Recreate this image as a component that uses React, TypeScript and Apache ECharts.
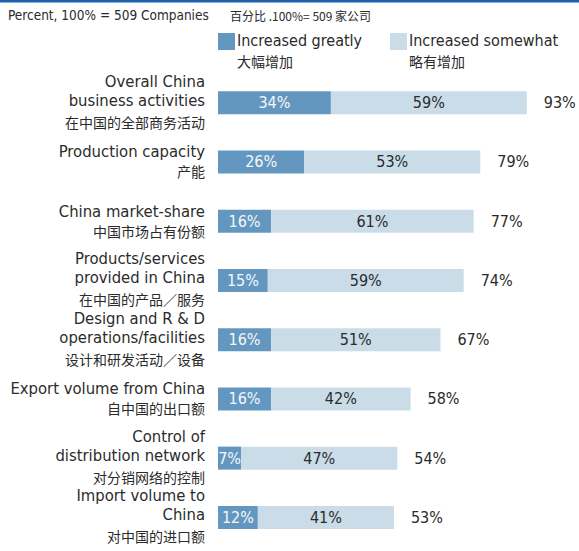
import React, { useEffect, useRef } from "react";
import * as echarts from "echarts";

const englishLabels: string[][] = [
  ["Overall China", "business activities"],
  ["Production capacity"],
  ["China market-share"],
  ["Products/services", "provided in China"],
  ["Design and R & D", "operations/facilities"],
  ["Export volume from China"],
  ["Control of", "distribution network"],
  ["Import volume to", "China"],
];
const chineseLabels: string[] = [
  "在中国的全部商务活动",
  "产能",
  "中国市场占有份额",
  "在中国的产品／服务",
  "设计和研发活动／设备",
  "自中国的出口额",
  "对分销网络的控制",
  "对中国的进口额",
];
const greatly: number[] = [34, 26, 16, 15, 16, 16, 7, 12];
const somewhat: number[] = [59, 53, 61, 59, 51, 42, 47, 41];
const seriesNames: string[] = ["Increased greatly", "Increased somewhat"];
const seriesNamesZh: string[] = ["大幅增加", "略有增加"];
const headerText = "Percent, 100% = 509 Companies";
const headerTextZh = "百分比 .100%= 509 家公司";

const totals = greatly.map((g, i) => g + somewhat[i]);
const categories = englishLabels.map((l) => l.join(" "));

const FONT = "'DejaVu Sans Condensed', 'Liberation Sans Narrow', 'Noto Sans', sans-serif";
const FONT_ZH = "'Noto Sans CJK SC', sans-serif";
const DARK = "#6497bf";
const LIGHT = "#c9dce8";
const TEXT = "#2b2b2b";

export default function App() {
  const ref = useRef<HTMLDivElement>(null);
  useEffect(() => {
    if (!ref.current) return;
    const chart = echarts.init(ref.current, undefined, { renderer: "svg" });
    const option: any = {
      animation: false,
      backgroundColor: "#ffffff",
      grid: { left: 218, top: 73, width: 332, height: 474, containLabel: false },
      xAxis: {
        type: "value",
        min: 0,
        max: 100,
        show: false,
      },
      yAxis: {
        type: "category",
        inverse: true,
        data: categories,
        axisLine: { show: false },
        axisTick: { show: false },
        splitLine: { show: false },
        axisLabel: {
          interval: 0,
          hideOverlap: false,
          margin: 13,
          align: "right",
          formatter: (_v: string, idx: number) => {
            const en = englishLabels[idx];
            const parts: string[] = [];
            en.forEach((l) => parts.push(`{en|${l}}`));
            parts.push(`{${en.length > 1 ? "zhGap" : "zh"}|${chineseLabels[idx]}}`);
            return parts.join("\n");
          },
          rich: {
            en: { fontFamily: FONT, fontSize: 16.5, lineHeight: 19, color: TEXT, align: "right" },
            zh: { fontFamily: FONT_ZH, fontSize: 14, lineHeight: 20, color: TEXT, align: "right" },
            zhGap: { fontFamily: FONT_ZH, fontSize: 14, lineHeight: 24, color: TEXT, align: "right" },
          },
        },
      },
      series: [
        {
          name: seriesNames[0],
          type: "bar",
          stack: "total",
          barWidth: 23,
          itemStyle: { color: DARK },
          label: {
            show: true,
            position: "inside",
            formatter: "{c}%",
            fontFamily: FONT,
            fontSize: 16,
            color: "#f4f7fa",
          },
          data: greatly,
        },
        {
          name: seriesNames[1],
          type: "bar",
          stack: "total",
          barWidth: 23,
          itemStyle: { color: LIGHT },
          label: {
            show: true,
            position: "inside",
            formatter: "{c}%",
            fontFamily: FONT,
            fontSize: 16,
            color: TEXT,
          },
          data: somewhat,
        },
        {
          name: "total",
          type: "scatter",
          symbolSize: 0,
          itemStyle: { opacity: 1 },
          label: {
            show: true,
            position: "right",
            distance: 17,
            formatter: (p: any) => `${p.value[0]}%`,
            fontFamily: FONT,
            fontSize: 16,
            color: TEXT,
            opacity: 1,
          },
          data: totals.map((t, i) => [t, i]),
        },
      ],
      graphic: [
        { type: "rect", left: 0, top: 0, shape: { width: 579, height: 2.5 }, style: { fill: "#1b62a8" } },
        {
          type: "text",
          left: 8,
          top: 8,
          style: { text: headerText, fontFamily: FONT, fontSize: 13.5, fill: TEXT },
        },
        {
          type: "text",
          left: 230,
          top: 9,
          style: { text: headerTextZh, fontFamily: FONT_ZH, fontSize: 12, fill: TEXT },
        },
        { type: "rect", left: 218, top: 33, shape: { width: 17, height: 17 }, style: { fill: DARK } },
        {
          type: "text",
          left: 237,
          top: 32,
          style: { text: seriesNames[0], fontFamily: FONT, fontSize: 16, fill: TEXT },
        },
        {
          type: "text",
          left: 237,
          top: 54,
          style: { text: seriesNamesZh[0], fontFamily: FONT_ZH, fontSize: 14, fill: TEXT },
        },
        { type: "rect", left: 390, top: 33, shape: { width: 17, height: 17 }, style: { fill: LIGHT } },
        {
          type: "text",
          left: 409,
          top: 32,
          style: { text: seriesNames[1], fontFamily: FONT, fontSize: 16, fill: TEXT },
        },
        {
          type: "text",
          left: 409,
          top: 54,
          style: { text: seriesNamesZh[1], fontFamily: FONT_ZH, fontSize: 14, fill: TEXT },
        },
      ],
    };
    chart.setOption(option);
    return () => chart.dispose();
  }, []);
  return (
    <div
      ref={ref}
      style={{ position: "fixed", left: 0, top: 0, width: 579, height: 551, background: "#fff" }}
    />
  );
}
